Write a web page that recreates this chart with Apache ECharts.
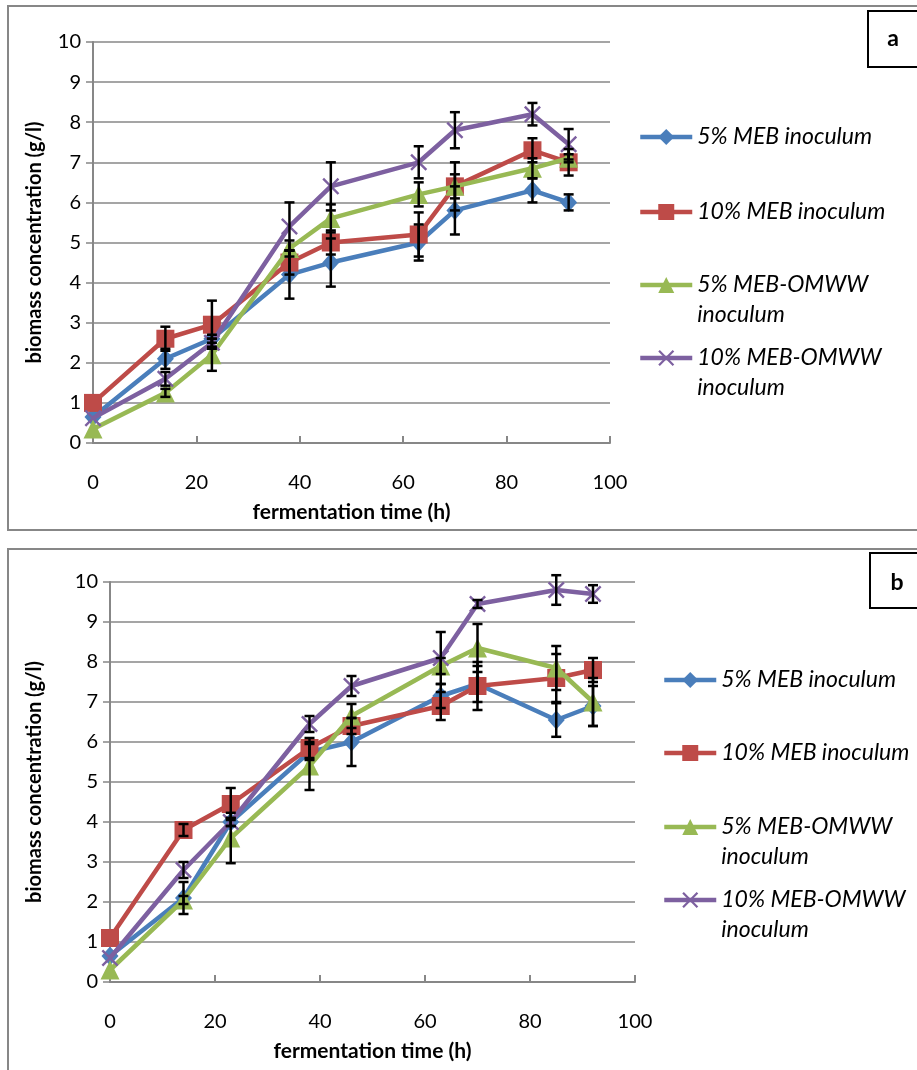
<!DOCTYPE html>
<html>
<head>
<meta charset="UTF-8">
<title>biomass concentration</title>
<script src="https://cdn.jsdelivr.net/npm/echarts@6.0.0/dist/echarts.min.js"></script>
<style>
  body { margin: 0; padding: 0; background: #fff; }
  #chart { width: 917px; height: 1070px; }
</style>
</head>
<body>
<div id="chart"></div>
<script>
// sampling times (h)
var hours = [0, 14, 23, 38, 46, 63, 70, 85, 92];

var names = ['5% MEB inoculum', '10% MEB inoculum', '5% MEB-OMWW inoculum', '10% MEB-OMWW inoculum'];
var legendLines = [['5% MEB inoculum'], ['10% MEB inoculum'], ['5% MEB-OMWW', 'inoculum'], ['10% MEB-OMWW', 'inoculum']];

var xTicks = [0, 20, 40, 60, 80, 100];
var yTicks = [0, 1, 2, 3, 4, 5, 6, 7, 8, 9, 10];

// panel a
var aMeb5 = [0.65, 2.1, 2.6, 4.2, 4.5, 5.0, 5.8, 6.3, 6.0];
var aMeb10 = [1.0, 2.6, 2.95, 4.5, 5.0, 5.2, 6.4, 7.3, 7.0];
var aOmww5 = [0.35, 1.25, 2.2, 4.85, 5.6, 6.2, 6.4, 6.85, 7.1];
var aOmww10 = [0.62, 1.6, 2.5, 5.4, 6.4, 7.0, 7.8, 8.2, 7.45];
var aMeb5Err = [0, 0.25, 0.1, 0.6, 0.6, 0.45, 0.6, 0.3, 0.2];
var aMeb10Err = [0, 0.3, 0.6, 0.3, 0.3, 0.55, 0.6, 0.3, 0.33];
var aOmww5Err = [0, 0.1, 0.4, 0.2, 0.35, 0.3, 0.3, 0.25, 0.1];
var aOmww10Err = [0, 0.17, 0.1, 0.6, 0.6, 0.4, 0.45, 0.28, 0.38];

// panel b
var bMeb5 = [0.65, 2.1, 4.0, 5.75, 6.0, 7.15, 7.45, 6.55, 6.9];
var bMeb10 = [1.1, 3.8, 4.45, 5.85, 6.4, 6.9, 7.4, 7.6, 7.8];
var bOmww5 = [0.3, 2.05, 3.6, 5.4, 6.65, 7.9, 8.35, 7.85, 7.0];
var bOmww10 = [0.6, 2.8, 4.0, 6.45, 7.4, 8.1, 9.45, 9.8, 9.7];
var bMeb5Err = [0, 0.4, 0.1, 0.2, 0.6, 0.3, 0.45, 0.42, 0.5];
var bMeb10Err = [0, 0.15, 0.4, 0.25, 0.2, 0.35, 0.6, 0.6, 0.3];
var bOmww5Err = [0, 0.1, 0.63, 0.6, 0.3, 0.2, 0.6, 0.55, 0.6];
var bOmww10Err = [0, 0.2, 0.1, 0.2, 0.25, 0.65, 0.1, 0.37, 0.22];

var colors = ['#4A7EBB', '#BE4B48', '#98B954', '#7D60A0'];
var symbols = ['diamond', 'rect', 'triangle',
  'path://M1,0L5,4L9,0L10,1L6,5L10,9L9,10L5,6L1,10L0,9L4,5L0,1Z'];
var symbolSizes = [[17, 19], 18, 19, 17];

var gray = '#878787';
var font = 'Lato, "Liberation Sans", sans-serif';

var myChart = echarts.init(document.getElementById('chart'));

function makeSeries(values, errs, panel) {
  var out = [];
  values.forEach(function (vals, k) {
    out.push({
      type: 'line',
      name: names[k],
      xAxisIndex: panel,
      yAxisIndex: panel,
      data: hours.map(function (h, i) { return [h, vals[i]]; }),
      symbol: symbols[k],
      symbolSize: symbolSizes[k],
      lineStyle: { color: colors[k], width: 4.5 },
      itemStyle: { color: colors[k] },
      emphasis: { disabled: true },
      z: 2 + k
    });
  });
  // error bars on top
  values.forEach(function (vals, k) {
    var data = [];
    hours.forEach(function (h, i) {
      if (errs[k][i] > 0) data.push([h, vals[i] - errs[k][i], vals[i] + errs[k][i]]);
    });
    out.push({
      type: 'custom',
      xAxisIndex: panel,
      yAxisIndex: panel,
      z: 10,
      silent: true,
      data: data,
      renderItem: function (params, api) {
        var lo = api.coord([api.value(0), api.value(1)]);
        var hi = api.coord([api.value(0), api.value(2)]);
        var w = 5;
        var st = { stroke: '#000', lineWidth: 2.5 };
        return {
          type: 'group',
          children: [
            { type: 'line', shape: { x1: lo[0], y1: lo[1], x2: hi[0], y2: hi[1] }, style: st },
            { type: 'line', shape: { x1: lo[0] - w, y1: lo[1], x2: lo[0] + w, y2: lo[1] }, style: st },
            { type: 'line', shape: { x1: hi[0] - w, y1: hi[1], x2: hi[0] + w, y2: hi[1] }, style: st }
          ]
        };
      }
    });
  });
  return out;
}

function xAxis(panel) {
  return {
    type: 'value', gridIndex: panel, min: xTicks[0], max: xTicks[xTicks.length - 1], interval: 20,
    name: 'fermentation time (h)', nameLocation: 'middle', nameGap: 59,
    nameTextStyle: { fontFamily: font, fontWeight: 'bold', fontSize: 21, color: '#000' },
    axisLine: { lineStyle: { color: gray, width: 2 } },
    axisTick: { inside: true, length: 7, lineStyle: { color: gray, width: 2 } },
    axisLabel: { margin: 30, fontFamily: font, fontSize: 20, color: '#000' },
    splitLine: { show: false }
  };
}

function yAxis(panel, gap) {
  return {
    type: 'value', gridIndex: panel, min: yTicks[0], max: yTicks[yTicks.length - 1], interval: 1,
    name: 'biomass concentration (g/l)', nameLocation: 'middle', nameGap: gap,
    nameTextStyle: { fontFamily: font, fontWeight: 'bold', fontSize: 20, color: '#000' },
    axisLine: { show: true, lineStyle: { color: gray, width: 2 } },
    axisTick: { show: true, length: 7, lineStyle: { color: gray, width: 1.5 } },
    axisLabel: { margin: 12, fontFamily: font, fontSize: 20, color: '#000' },
    splitLine: { show: true, lineStyle: { color: gray, width: 1.5 } }
  };
}

// one legend box per entry, so the two-line entries keep the symbol on the first line
function makeLegends(left, rows) {
  return names.map(function (n, k) {
    var two = legendLines[k].length > 1;
    return {
      data: [n],
      orient: 'vertical',
      left: left,
      top: rows[k] - (two ? 45 : 15),
      padding: 0,
      itemWidth: 52,
      itemHeight: 20,
      selectedMode: false,
      lineStyle: { width: 4.5 },
      formatter: function () {
        return two ? '\n' + legendLines[k].join('\n') : legendLines[k][0];
      },
      textStyle: { fontFamily: font, fontStyle: 'italic', fontSize: 23, color: '#000', lineHeight: 30 }
    };
  });
}

var option = {
  animation: false,
  grid: [
    { left: 93, top: 42, width: 517, height: 401 },
    { left: 110, top: 582, width: 525, height: 400 }
  ],
  xAxis: [xAxis(0), xAxis(1)],
  yAxis: [yAxis(0, 48), yAxis(1, 65)],
  legend: makeLegends(638, [137, 212, 285, 358]).concat(makeLegends(662, [680, 753, 827, 900])),
  graphic: [
    { type: 'rect', shape: { x: 8, y: 6, width: 930, height: 524 }, style: { fill: 'none', stroke: gray, lineWidth: 2 } },
    { type: 'rect', shape: { x: 8, y: 549, width: 930, height: 540 }, style: { fill: 'none', stroke: gray, lineWidth: 2 } },
    { type: 'rect', shape: { x: 868, y: 11, width: 70, height: 56 }, style: { fill: '#fff', stroke: '#000', lineWidth: 2 } },
    { type: 'text', x: 893, y: 39, style: { text: 'a', font: 'bold 23px ' + font, fill: '#000', align: 'center', verticalAlign: 'middle' } },
    { type: 'rect', shape: { x: 870, y: 553, width: 70, height: 55 }, style: { fill: '#fff', stroke: '#000', lineWidth: 2 } },
    { type: 'text', x: 897, y: 583, style: { text: 'b', font: 'bold 23px ' + font, fill: '#000', align: 'center', verticalAlign: 'middle' } }
  ],
  series: makeSeries([aMeb5, aMeb10, aOmww5, aOmww10], [aMeb5Err, aMeb10Err, aOmww5Err, aOmww10Err], 0)
    .concat(makeSeries([bMeb5, bMeb10, bOmww5, bOmww10], [bMeb5Err, bMeb10Err, bOmww5Err, bOmww10Err], 1))
};

myChart.setOption(option);
</script>
</body>
</html>
